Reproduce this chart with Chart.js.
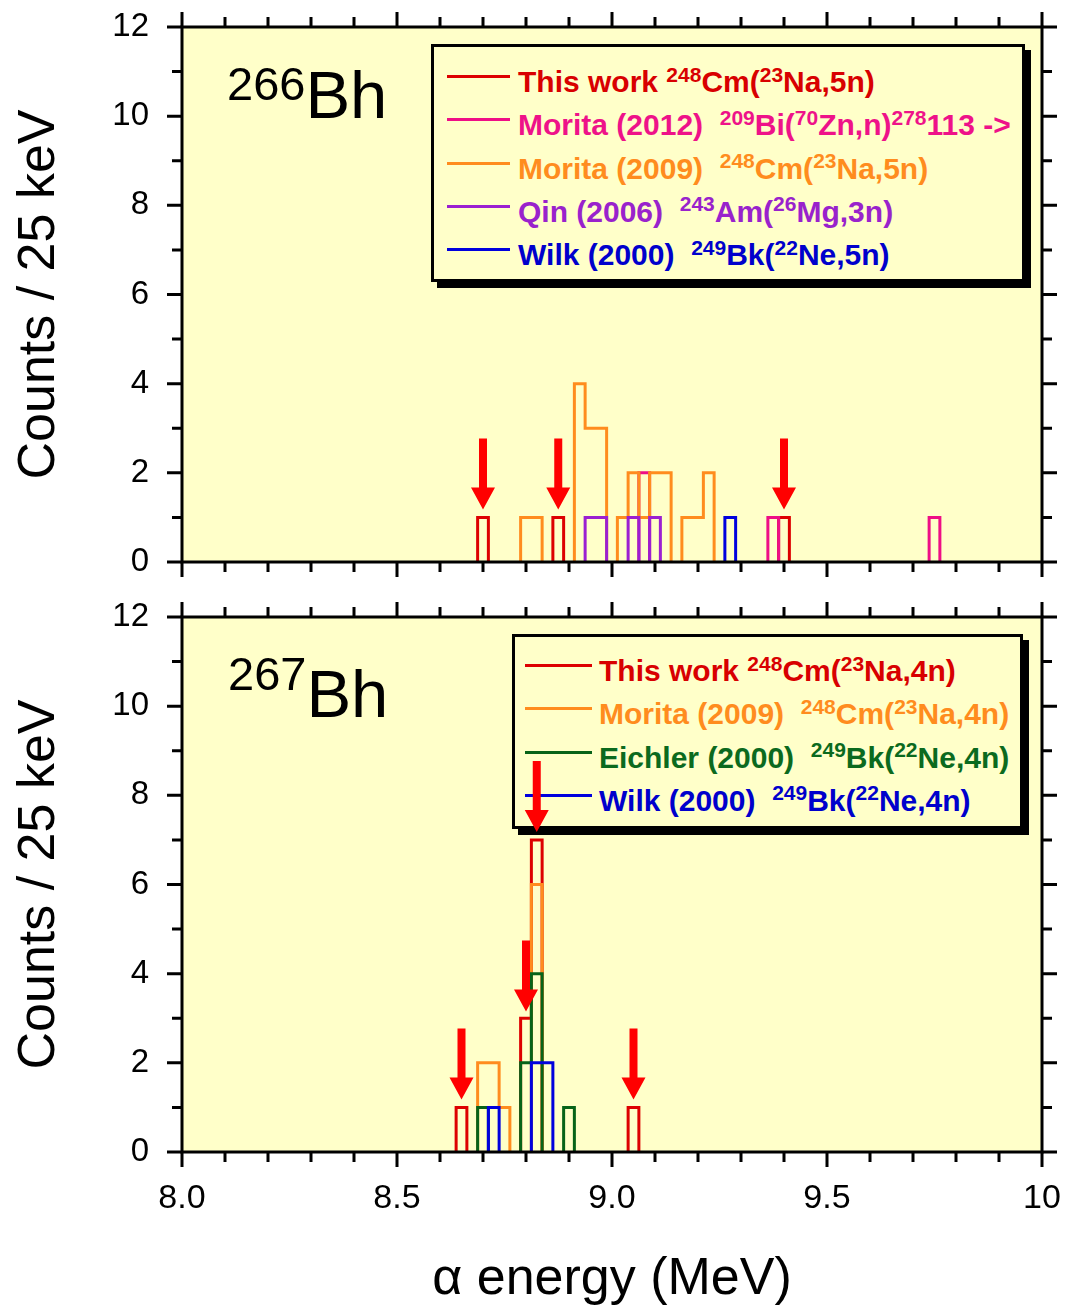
<!DOCTYPE html>
<html>
<head>
<meta charset="utf-8">
<title>266Bh / 267Bh alpha spectra</title>
<script src="https://cdn.jsdelivr.net/npm/chart.js@4.4.0/dist/chart.umd.min.js"></script>
<style>
  body { margin: 0; background: #fff; }
  #page { position: relative; width: 1065px; height: 1307px; overflow: hidden;
          font-family: "Liberation Sans", Arial, Helvetica, sans-serif; }
  canvas { position: absolute; left: 0; z-index: 2; }
  #c266 { top: 0; }
  #c267 { top: 590px; }
  .plotbg { position: absolute; background: #ffffc9; z-index: 0; }
  .nuc { position: absolute; font-size: 67px; line-height: 66px; color: #000; white-space: nowrap; z-index: 3; }
  .nuc span { font-size: 47px; position: relative; }
  .leg { position: absolute; box-sizing: border-box; border: 3px solid #000; background: #ffffc9; z-index: 1;
         box-shadow: 6px 6px 0 #000; font-weight: bold; font-size: 30px; white-space: nowrap; }
  .leg div { height: 43.3px; line-height: 43.3px; }
  .leg i { display: inline-block; height: 3px; vertical-align: 14px; }
  sup { font-size: 0.7em; line-height: 0; vertical-align: 0; position: relative; top: -0.5em; }
</style>
</head>
<body>
<div id="page">
  <div class="plotbg" id="bg266"></div>
  <div class="plotbg" id="bg267"></div>
  <canvas id="c266" width="1065" height="590"></canvas>
  <canvas id="c267" width="1065" height="717"></canvas>

  <div class="nuc" style="left:227px;top:62px"><span style="top:-18px">266</span>Bh</div>
  <div class="nuc" style="left:228px;top:661px"><span style="top:-27px">267</span>Bh</div>

  <div class="leg" style="left:431px;top:44px;width:594px;height:238px;padding:13px 0 0 13px">
    <div style="color:#d80000"><i style="width:63px;margin-right:8px;background:#dd0000"></i>This work <sup>248</sup>Cm(<sup>23</sup>Na,5n)</div>
    <div style="color:#ee1289"><i style="width:63px;margin-right:8px;background:#ee0e86"></i>Morita (2012)&nbsp; <sup>209</sup>Bi(<sup>70</sup>Zn,n)<sup>278</sup>113 -&gt;</div>
    <div style="color:#ff8c1e"><i style="width:63px;margin-right:8px;background:#ff8c1e"></i>Morita (2009)&nbsp; <sup>248</sup>Cm(<sup>23</sup>Na,5n)</div>
    <div style="color:#9922cc"><i style="width:63px;margin-right:8px;background:#9b1fd1"></i>Qin (2006)&nbsp; <sup>243</sup>Am(<sup>26</sup>Mg,3n)</div>
    <div style="color:#0000cc"><i style="width:63px;margin-right:8px;background:#0000dd"></i>Wilk (2000)&nbsp; <sup>249</sup>Bk(<sup>22</sup>Ne,5n)</div>
  </div>

  <div class="leg" style="left:512px;top:634px;width:511px;height:195px;padding:12px 0 0 10px">
    <div style="color:#d80000"><i style="width:67px;margin-right:7px;background:#dd0000"></i>This work <sup>248</sup>Cm(<sup>23</sup>Na,4n)</div>
    <div style="color:#ff8c1e"><i style="width:67px;margin-right:7px;background:#ff8c1e"></i>Morita (2009)&nbsp; <sup>248</sup>Cm(<sup>23</sup>Na,4n)</div>
    <div style="color:#0b6a1e"><i style="width:67px;margin-right:7px;background:#076318"></i>Eichler (2000)&nbsp; <sup>249</sup>Bk(<sup>22</sup>Ne,4n)</div>
    <div style="color:#0000cc"><i style="width:67px;margin-right:7px;background:#0000dd"></i>Wilk (2000)&nbsp; <sup>249</sup>Bk(<sup>22</sup>Ne,4n)</div>
  </div>
</div>

<script>
const binWidth = 0.025;   // MeV, one histogram bin

// 266Bh: bin centres (MeV) and counts
const bh266ThisWorkE = [8.700, 8.875, 9.400];
const bh266ThisWorkN = [1, 1, 1];
const bh266Morita2012E = [9.075, 9.375, 9.750];
const bh266Morita2012N = [2, 1, 1];
const bh266Morita2009E = [8.800, 8.825, 8.925, 8.950, 8.975, 9.025, 9.050, 9.075, 9.100, 9.125, 9.175, 9.200, 9.225];
const bh266Morita2009N = [1, 1, 4, 3, 3, 1, 2, 1, 2, 2, 1, 1, 2];
const bh266QinE = [8.950, 8.975, 9.050, 9.100];
const bh266QinN = [1, 1, 1, 1];
const bh266WilkE = [9.275];
const bh266WilkN = [1];
const bh266ArrowE = [8.700, 8.875, 9.400];
const bh266ArrowTip = [1.18, 1.18, 1.18];

// 267Bh
const bh267ThisWorkE = [8.650, 8.800, 8.825, 9.050];
const bh267ThisWorkN = [1, 3, 7, 1];
const bh267Morita2009E = [8.700, 8.725, 8.750, 8.825];
const bh267Morita2009N = [2, 2, 1, 6];
const bh267EichlerE = [8.700, 8.800, 8.825, 8.900];
const bh267EichlerN = [1, 2, 4, 1];
const bh267WilkE = [8.725, 8.825, 8.850];
const bh267WilkN = [1, 2, 2];
const bh267ArrowE = [8.650, 8.800, 8.825, 9.050];
const bh267ArrowTip = [1.18, 3.15, 7.18, 1.18];

const xTicks = { min: 8, max: 10, major: 0.5, minor: 0.1 };
const yTicks = { min: 0, max: 12, major: 2, minor: 1 };

const cRed = '#dd0000', cPink = '#ee0e86', cOrange = '#ff8c1e',
      cPurple = '#9b1fd1', cBlue = '#0000dd', cGreen = '#076318';

Chart.defaults.font.family = '"Liberation Sans", Arial, Helvetica, sans-serif';
Chart.defaults.color = '#000';

// histogram outline: up at left edge, across, down at the end of each run of bins
function stepOutline(centres, counts) {
  const pts = [];
  let prev = null;
  centres.forEach((c, i) => {
    const lo = c - binWidth / 2, hi = c + binWidth / 2;
    if (prev === null || Math.abs(lo - prev) > 1e-6) {
      if (prev !== null) {
        pts.push({ x: prev, y: 0 });
        pts.push({ x: prev, y: null });
      }
      pts.push({ x: lo, y: 0 });
    }
    pts.push({ x: lo, y: counts[i] });
    pts.push({ x: hi, y: counts[i] });
    prev = hi;
  });
  pts.push({ x: prev, y: 0 });
  return pts;
}

function series(label, color, e, n, order) {
  return {
    label, order,
    data: stepOutline(e, n),
    borderColor: color,
    borderWidth: 3,
    borderJoinStyle: 'miter',
    pointRadius: 0,
    showLine: true,
    fill: false,
    tension: 0,
    spanGaps: false
  };
}

// yellow plot background lives in a div under the legend, placed on the chart area
const bgPlugin = {
  id: 'plotbg',
  afterLayout(chart, args, opts) {
    const a = chart.chartArea;
    const el = document.getElementById(opts.el);
    const top = chart.canvas.offsetTop;
    el.style.left = a.left + 'px';
    el.style.top = (top + a.top) + 'px';
    el.style.width = (a.right - a.left) + 'px';
    el.style.height = (a.bottom - a.top) + 'px';
  }
};

const framePlugin = {
  id: 'frame',
  afterDraw(chart) {
    const { ctx, chartArea: a, scales: { x, y } } = chart;
    ctx.save();
    ctx.strokeStyle = '#000';
    ctx.lineWidth = 3;
    ctx.beginPath();
    const nx = Math.round((xTicks.max - xTicks.min) / xTicks.minor);
    const every = Math.round(xTicks.major / xTicks.minor);
    for (let i = 0; i <= nx; i++) {
      const px = x.getPixelForValue(xTicks.min + i * xTicks.minor);
      const len = i % every === 0 ? 15 : 10;
      ctx.moveTo(px, a.bottom); ctx.lineTo(px, a.bottom + len);
      ctx.moveTo(px, a.top); ctx.lineTo(px, a.top - len);
    }
    for (let j = yTicks.min; j <= yTicks.max; j += yTicks.minor) {
      const py = y.getPixelForValue(j);
      const len = j % yTicks.major === 0 ? 15 : 10;
      ctx.moveTo(a.left, py); ctx.lineTo(a.left - len, py);
      ctx.moveTo(a.right, py); ctx.lineTo(a.right + len, py);
    }
    ctx.stroke();
    ctx.strokeRect(a.left, a.top, a.right - a.left, a.bottom - a.top);
    ctx.restore();
  }
};

const arrowPlugin = {
  id: 'arrows',
  afterDatasetsDraw(chart, args, opts) {
    const { ctx, scales: { x, y } } = chart;
    ctx.save();
    ctx.fillStyle = '#ff0000';
    opts.energies.forEach((e, i) => {
      const px = x.getPixelForValue(e);
      const tip = y.getPixelForValue(opts.tips[i]);
      const len = 71, head = 22, hw = 12, sw = 4;
      ctx.beginPath();
      ctx.moveTo(px - sw, tip - len);
      ctx.lineTo(px + sw, tip - len);
      ctx.lineTo(px + sw, tip - head);
      ctx.lineTo(px + hw, tip - head);
      ctx.lineTo(px, tip);
      ctx.lineTo(px - hw, tip - head);
      ctx.lineTo(px - sw, tip - head);
      ctx.closePath();
      ctx.fill();
    });
    ctx.restore();
  }
};

function panelOptions(canvasH, showX, bgId, arrowE, arrowTip) {
  return {
    responsive: false,
    animation: false,
    devicePixelRatio: 1,
    layout: { padding: { left: 0, right: 23, top: 27, bottom: 0 } },
    plugins: {
      legend: { display: false },
      tooltip: { enabled: false },
      plotbg: { el: bgId },
      arrows: { energies: arrowE, tips: arrowTip }
    },
    scales: {
      x: {
        type: 'linear', min: xTicks.min, max: xTicks.max,
        grid: { display: false }, border: { display: false },
        ticks: {
          display: showX, stepSize: xTicks.major, padding: 18,
          font: { size: 34 },
          callback: v => (v === 10 ? '10' : v.toFixed(1))
        },
        title: {
          display: showX, text: 'α energy (MeV)',
          font: { size: 52, lineHeight: 1 }, padding: { top: 0, bottom: 1 }
        },
        afterFit: s => {
          s.height = canvasH - 562;
          s.paddingLeft = 0; s.paddingRight = 0;
        }
      },
      y: {
        min: yTicks.min, max: yTicks.max,
        grid: { display: false }, border: { display: false },
        ticks: { stepSize: yTicks.major, padding: 25, font: { size: 33 } },
        title: {
          display: true, text: 'Counts / 25 keV',
          font: { size: 52, lineHeight: 1.2 }, padding: { top: 8, bottom: 0 }
        },
        afterFit: s => {
          s.width = 182;
          s.paddingTop = 0; s.paddingBottom = 0;
        }
      }
    }
  };
}

new Chart(document.getElementById('c266'), {
  type: 'scatter',
  data: {
    datasets: [
      series('This work', cRed, bh266ThisWorkE, bh266ThisWorkN, 3),
      series('Morita (2012)', cPink, bh266Morita2012E, bh266Morita2012N, 2),
      series('Morita (2009)', cOrange, bh266Morita2009E, bh266Morita2009N, 1),
      series('Qin (2006)', cPurple, bh266QinE, bh266QinN, 0),
      series('Wilk (2000)', cBlue, bh266WilkE, bh266WilkN, 0)
    ]
  },
  options: panelOptions(590, false, 'bg266', bh266ArrowE, bh266ArrowTip),
  plugins: [bgPlugin, framePlugin, arrowPlugin]
});

new Chart(document.getElementById('c267'), {
  type: 'scatter',
  data: {
    datasets: [
      series('This work', cRed, bh267ThisWorkE, bh267ThisWorkN, 3),
      series('Morita (2009)', cOrange, bh267Morita2009E, bh267Morita2009N, 2),
      series('Eichler (2000)', cGreen, bh267EichlerE, bh267EichlerN, 1),
      series('Wilk (2000)', cBlue, bh267WilkE, bh267WilkN, 0)
    ]
  },
  options: panelOptions(717, true, 'bg267', bh267ArrowE, bh267ArrowTip),
  plugins: [bgPlugin, framePlugin, arrowPlugin]
});
</script>
</body>
</html>
